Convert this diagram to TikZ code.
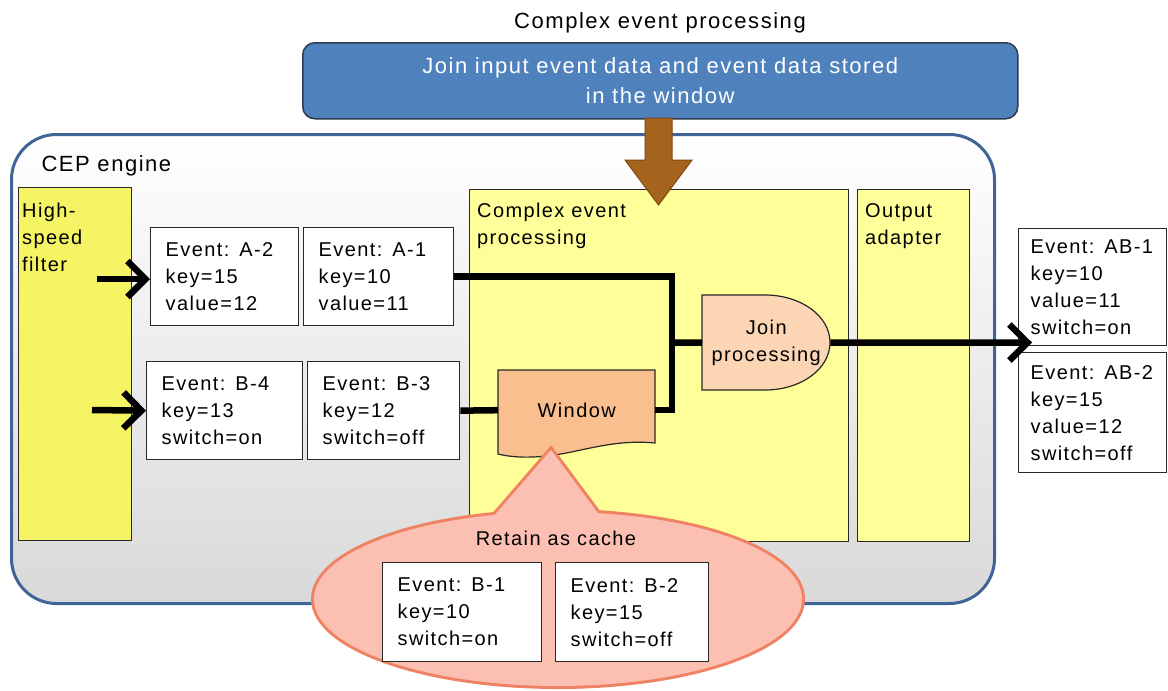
\documentclass[tikz,border=0pt]{standalone}
\usepackage{fontspec}
\setmainfont{Liberation Sans}[LetterSpace=7]
\usetikzlibrary{arrows.meta}
\definecolor{cepborder}{RGB}{63,100,150}
\definecolor{bluebox}{RGB}{79,129,189}
\definecolor{blueedge}{RGB}{45,60,80}
\definecolor{brownarr}{RGB}{165,100,30}
\definecolor{brownedge}{RGB}{130,70,15}
\definecolor{yellowA}{RGB}{244,244,100}
\definecolor{yellowB}{RGB}{255,255,153}
\definecolor{winfill}{RGB}{250,191,143}
\definecolor{joinfill}{RGB}{252,213,181}
\definecolor{cachefill}{RGB}{251,192,178}
\definecolor{cacheedge}{RGB}{240,130,100}
\definecolor{boxedge}{RGB}{40,40,40}
\begin{document}
\begin{tikzpicture}[x=1pt,y=-1pt,
  every node/.style={font=\fontsize{20}{27}\selectfont},
  evbox/.style={draw=boxedge, fill=white, line width=1.3pt, align=left, inner xsep=15pt, inner ysep=0pt, anchor=north west},
  panel/.style={draw=boxedge, line width=1.2pt, anchor=north west, inner sep=0pt},
  lbl/.style={align=left, anchor=north west, inner sep=0pt},
  shapeline/.style={draw=boxedge, line width=1.2pt},
  conn/.style={line width=6.5pt, black},
  barb/.style={-{Straight Barb[length=18pt,width=36pt]}},
  cachestroke/.style={draw=cacheedge, line width=6pt, fill=cachefill},
]
\useasboundingbox (0,0) rectangle (1168,691);

% title and top box
\node[font=\fontsize{22}{27}\selectfont, anchor=base] (title) at (660,28) {Complex event processing};
\node[draw=blueedge, fill=bluebox, line width=1.5pt, rounded corners=12pt, minimum width=715pt, minimum height=76pt, anchor=north west, text=white, align=center, font=\fontsize{22}{30}\selectfont] (joinsrc) at (302,42) {Join input event data and event data stored\\in the window};

% CEP engine
\node[draw=cepborder, line width=3pt, rounded corners=45pt, top color=white, bottom color=gray!30, minimum width=983pt, minimum height=469pt, anchor=north west] (cep) at (10,133) {};
\node[anchor=base west, font=\fontsize{22}{27}\selectfont] (ceplbl) at (38,171) {CEP engine};

% panels
\node[panel, fill=yellowA, minimum width=113pt, minimum height=353pt] (filter) at (18,187) {};
\node[lbl] (filterlbl) at (22,203) {High-\\speed\\filter};
\node[panel, fill=yellowB, minimum width=379pt, minimum height=352pt] (cepbox) at (469,189) {};
\node[lbl] (cepboxlbl) at (477,203) {Complex event\\processing};
\node[panel, fill=yellowB, minimum width=112pt, minimum height=352pt] (outad) at (857,189) {};
\node[lbl] (outadlbl) at (865,203) {Output\\adapter};

% event boxes
\node[evbox, text width=118pt, minimum height=98pt] (a2) at (150,227) {Event: A-2\\key=15\\value=12};
\node[evbox, text width=120pt, minimum height=98pt] (a1) at (303,227) {Event: A-1\\key=10\\value=11};
\node[evbox, text width=126pt, minimum height=98pt] (b4) at (146,361) {Event: B-4\\key=13\\switch=on};
\node[evbox, text width=122pt, minimum height=98pt] (b3) at (307,361) {Event: B-3\\key=12\\switch=off};
\node[evbox, text width=124pt, inner xsep=12pt, minimum height=117pt] (ab1) at (1018,228) {Event: AB-1\\key=10\\value=11\\switch=on};
\node[evbox, text width=124pt, inner xsep=12pt, minimum height=120pt] (ab2) at (1018,352) {Event: AB-2\\key=15\\value=12\\switch=off};

% window shape
\draw[shapeline, fill=winfill] (498,370) -- (655,370) -- (655,443)
  .. controls (625,440) and (600,446) .. (576,451)
  .. controls (545,458) and (518,459) .. (498,454) -- cycle;
\node[inner sep=0pt, minimum width=157pt, minimum height=80pt, anchor=north west] (win) at (498,370) {Window};

% join shape
\draw[shapeline, fill=joinfill] (702,295) -- (765,295)
  .. controls (801,295) and (830,316) .. (830,342.5)
  .. controls (830,369) and (801,390) .. (765,390) -- (702,390) -- cycle;
\node[inner sep=0pt, minimum width=128pt, minimum height=95pt, anchor=north west, align=center] (join) at (702,295) {Join\\processing};

% connectors
\coordinate (bus) at (672,342.5);
\coordinate (ina) at (97,279);
\coordinate (inb) at (92,410);
\coordinate (outtip) at (1032,342.5);
\draw[conn] (a1.east) -| (bus) |- (win.east);
\draw[conn] (bus) -- (join.west);
\draw[conn] (b3.east) -- (win.west);
\draw[conn, barb] (ina) -- (ina -| a2.west);
\draw[conn, barb] (inb) -- (b4.west);
\draw[conn, barb] (join.east) -- (outtip);

% brown arrow
\draw[fill=brownarr, draw=brownedge, line width=1pt, line join=miter]
  (645,118) -- (672,118) -- (672,160) -- (692,160) -- (658.5,205) -- (625,160) -- (645,160) -- cycle;

% callout
\draw[cachestroke] (558,599) ellipse [x radius=244, y radius=87];
\draw[cachestroke, line join=miter] (473,540) -- (551,450) -- (618,540) -- cycle;
\fill[cachefill] (558,599) ellipse [x radius=244, y radius=87];
\fill[cachefill] (473,540) -- (551,450) -- (618,540) -- cycle;
\node[anchor=base] (cachelbl) at (556,545) {Retain as cache};
\node[evbox, text width=129pt, minimum height=99pt] (b1) at (382,562) {Event: B-1\\key=10\\switch=on};
\node[evbox, text width=123pt, minimum height=99pt] (b2) at (555,562) {Event: B-2\\key=15\\switch=off};
\end{tikzpicture}
\end{document}
